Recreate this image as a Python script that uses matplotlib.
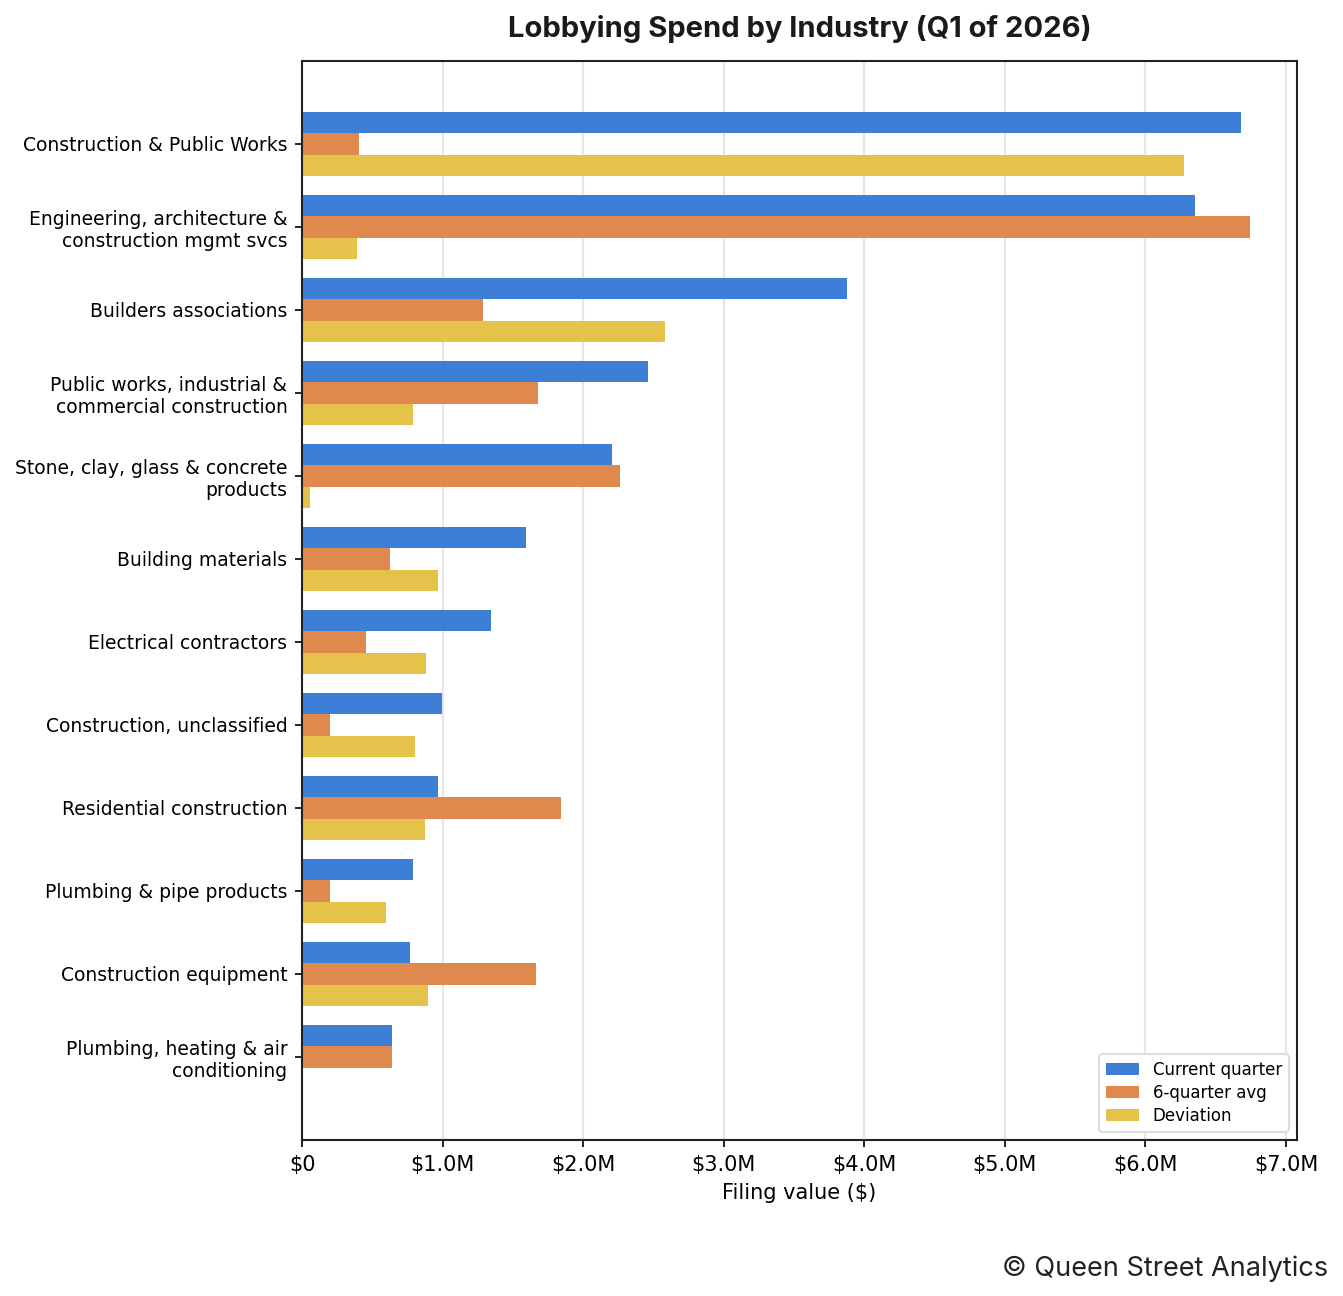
import matplotlib
matplotlib.use("Agg")
import matplotlib.pyplot as plt
import numpy as np
from matplotlib.ticker import FuncFormatter

industries = [
    "Construction & Public Works",
    "Engineering, architecture &\nconstruction mgmt svcs",
    "Builders associations",
    "Public works, industrial &\ncommercial construction",
    "Stone, clay, glass & concrete\nproducts",
    "Building materials",
    "Electrical contractors",
    "Construction, unclassified",
    "Residential construction",
    "Plumbing & pipe products",
    "Construction equipment",
    "Plumbing, heating & air\nconditioning",
]

# values in dollars
current_quarter = [6.678e6, 6.351e6, 3.878e6, 2.462e6, 2.205e6, 1.593e6,
                   1.344e6, 0.996e6, 0.967e6, 0.789e6, 0.768e6, 0.640e6]
six_quarter_avg = [0.405e6, 6.742e6, 1.287e6, 1.679e6, 2.262e6, 0.626e6,
                   0.455e6, 0.199e6, 1.842e6, 0.199e6, 1.664e6, 0.640e6]
deviation = [6.273e6, 0.391e6, 2.582e6, 0.788e6, 0.057e6, 0.967e6,
             0.882e6, 0.804e6, 0.875e6, 0.597e6, 0.896e6, 0.0]

series_names = ["Current quarter", "6-quarter avg", "Deviation"]
colors = ["#3d7fd7", "#e0894f", "#e5c34a"]


def money(x, pos):
    if x == 0:
        return "$0"
    return "${:.1f}M".format(x / 1e6)


fig = plt.figure(figsize=(13.43 / 1.5, 12.96 / 1.5), dpi=150)
ax = fig.add_axes([0.2249, 0.1204, 0.7409, 0.8326])

y = np.arange(len(industries))
h = 0.26
for i, (vals, name) in enumerate(zip([current_quarter, six_quarter_avg, deviation], series_names)):
    ax.barh(y + (i - 1) * h, vals, height=h, color=colors[i], label=name, zorder=2)

ax.set_yticks(y)
ax.set_yticklabels(industries, fontsize=9)
ax.set_ylim(len(industries), -1)
ax.set_xlim(0, max(max(current_quarter), max(six_quarter_avg), max(deviation)) * 1.05)
ax.xaxis.set_major_formatter(FuncFormatter(money))
ax.tick_params(axis="x", labelsize=10)
ax.grid(axis="x", color="#e6e6e6", linewidth=1.0, zorder=0)
ax.set_axisbelow(True)
for s in ax.spines.values():
    s.set_color("#222222")
    s.set_linewidth(1.0)

ax.set_xlabel("Filing value ($)", fontsize=10)
ax.legend(loc="lower right", fontsize=8, framealpha=1.0, edgecolor="#dddddd",
          labelspacing=0.3)

fig.text(0.5953, 0.9775, "Lobbying Spend by Industry (Q1 of 2026)", ha="center", va="center",
         fontsize=14, fontweight="bold", family="Inter", color="#1a1a1a")
fig.text(0.989, 0.0207, "\u00a9 Queen Street Analytics", ha="right", va="center",
         fontsize=13, family="Inter", color="#222222")

fig.savefig("out.png", dpi=150)
